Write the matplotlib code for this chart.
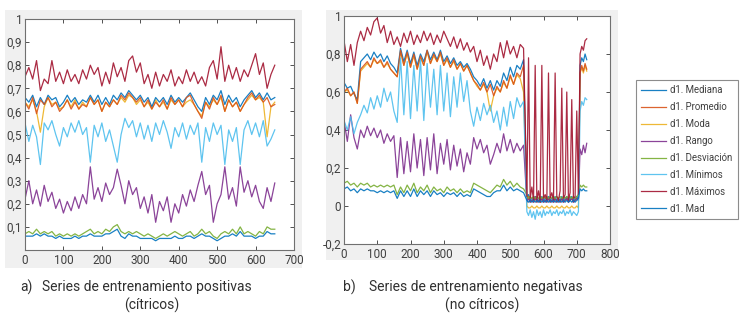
import numpy as np
import matplotlib
matplotlib.use("Agg")
import matplotlib.pyplot as plt
from matplotlib.patches import Rectangle
from matplotlib.ticker import FuncFormatter

plt.rcParams['font.family'] = ['Roboto', 'DejaVu Sans']

# ---------------- data: (a) positive training series, sampled every 10 ----------------
a_step = 10
a_maximos = [0.75, 0.79, 0.74, 0.82, 0.69, 0.74, 0.72, 0.82, 0.73, 0.77,
             0.72, 0.78, 0.73, 0.76, 0.72, 0.78, 0.74, 0.80, 0.76, 0.79,
             0.71, 0.77, 0.72, 0.81, 0.75, 0.79, 0.73, 0.82, 0.84, 0.77,
             0.81, 0.72, 0.76, 0.70, 0.77, 0.71, 0.76, 0.73, 0.78, 0.71,
             0.75, 0.72, 0.78, 0.73, 0.77, 0.72, 0.75, 0.71, 0.79, 0.82,
             0.74, 0.88, 0.73, 0.80, 0.74, 0.79, 0.73, 0.78, 0.75, 0.80,
             0.85, 0.76, 0.81, 0.70, 0.76, 0.80]
a_promedio = [0.64, 0.61, 0.66, 0.59, 0.65, 0.63, 0.66, 0.62, 0.64, 0.60,
              0.62, 0.65, 0.61, 0.64, 0.61, 0.63, 0.62, 0.66, 0.63, 0.65,
              0.60, 0.64, 0.62, 0.65, 0.63, 0.67, 0.65, 0.68, 0.66, 0.64,
              0.66, 0.62, 0.65, 0.61, 0.64, 0.62, 0.65, 0.61, 0.66, 0.63,
              0.65, 0.62, 0.66, 0.67, 0.63, 0.60, 0.57, 0.64, 0.61, 0.66,
              0.63, 0.67, 0.60, 0.65, 0.62, 0.64, 0.60, 0.63, 0.66, 0.68,
              0.65, 0.67, 0.64, 0.66, 0.62, 0.63]
a_mediana = [0.66, 0.64, 0.67, 0.62, 0.66, 0.63, 0.67, 0.65, 0.66, 0.62,
             0.64, 0.67, 0.64, 0.66, 0.63, 0.65, 0.64, 0.67, 0.64, 0.67,
             0.63, 0.66, 0.63, 0.67, 0.65, 0.68, 0.66, 0.69, 0.67, 0.65,
             0.67, 0.64, 0.66, 0.62, 0.66, 0.64, 0.66, 0.63, 0.67, 0.64,
             0.66, 0.64, 0.66, 0.68, 0.65, 0.62, 0.60, 0.66, 0.63, 0.67,
             0.65, 0.69, 0.63, 0.67, 0.64, 0.66, 0.62, 0.65, 0.67, 0.69,
             0.66, 0.68, 0.65, 0.68, 0.65, 0.66]
a_moda = [0.64, 0.62, 0.65, 0.60, 0.51, 0.62, 0.66, 0.63, 0.64, 0.61,
          0.62, 0.65, 0.62, 0.65, 0.61, 0.64, 0.62, 0.66, 0.63, 0.65,
          0.60, 0.64, 0.62, 0.65, 0.63, 0.66, 0.64, 0.67, 0.66, 0.63,
          0.65, 0.62, 0.64, 0.61, 0.65, 0.62, 0.64, 0.61, 0.65, 0.63,
          0.65, 0.62, 0.64, 0.65, 0.63, 0.60, 0.58, 0.64, 0.62, 0.65,
          0.63, 0.66, 0.60, 0.65, 0.62, 0.64, 0.60, 0.63, 0.65, 0.67,
          0.65, 0.66, 0.64, 0.49, 0.62, 0.64]
a_minimos = [0.55, 0.47, 0.54, 0.49, 0.37, 0.55, 0.52, 0.56, 0.50, 0.45,
             0.53, 0.49, 0.55, 0.51, 0.56, 0.50, 0.53, 0.38, 0.54, 0.49,
             0.55, 0.47, 0.52, 0.45, 0.38, 0.50, 0.57, 0.53, 0.56, 0.49,
             0.55, 0.48, 0.54, 0.47, 0.55, 0.50, 0.56, 0.51, 0.44, 0.53,
             0.49, 0.55, 0.48, 0.54, 0.50, 0.55, 0.38, 0.53, 0.47, 0.55,
             0.50, 0.54, 0.37, 0.52, 0.47, 0.53, 0.37, 0.52, 0.56, 0.50,
             0.55, 0.49, 0.56, 0.45, 0.48, 0.52]
a_rango = [0.22, 0.30, 0.20, 0.26, 0.19, 0.28, 0.21, 0.25, 0.18, 0.22,
           0.16, 0.21, 0.17, 0.23, 0.18, 0.24, 0.20, 0.36, 0.22, 0.27,
           0.21, 0.29, 0.24, 0.27, 0.35, 0.28, 0.20, 0.30, 0.24, 0.27,
           0.18, 0.23, 0.16, 0.24, 0.12, 0.21, 0.17, 0.23, 0.12, 0.20,
           0.16, 0.24, 0.19, 0.26, 0.21, 0.28, 0.34, 0.24, 0.28, 0.12,
           0.20, 0.24, 0.36, 0.22, 0.27, 0.19, 0.36, 0.25, 0.30, 0.23,
           0.28, 0.21, 0.18, 0.27, 0.21, 0.29]
a_desviacion = [0.07, 0.08, 0.07, 0.09, 0.07, 0.08, 0.07, 0.08, 0.06, 0.07,
                0.06, 0.07, 0.06, 0.07, 0.06, 0.07, 0.08, 0.09, 0.07, 0.08,
                0.07, 0.09, 0.08, 0.10, 0.11, 0.08, 0.07, 0.08, 0.07, 0.08,
                0.07, 0.06, 0.07, 0.06, 0.05, 0.06, 0.07, 0.06, 0.07, 0.08,
                0.07, 0.06, 0.07, 0.08, 0.06, 0.07, 0.09, 0.07, 0.08, 0.06,
                0.05, 0.07, 0.08, 0.07, 0.09, 0.07, 0.10, 0.07, 0.08, 0.07,
                0.06, 0.08, 0.07, 0.10, 0.09, 0.09]
a_mad = [0.06, 0.06, 0.06, 0.07, 0.06, 0.07, 0.06, 0.06, 0.05, 0.06,
         0.05, 0.05, 0.05, 0.06, 0.05, 0.06, 0.06, 0.07, 0.06, 0.06,
         0.06, 0.07, 0.07, 0.08, 0.09, 0.06, 0.05, 0.07, 0.06, 0.06,
         0.05, 0.05, 0.05, 0.05, 0.04, 0.05, 0.05, 0.05, 0.05, 0.06,
         0.05, 0.05, 0.06, 0.06, 0.05, 0.06, 0.07, 0.06, 0.06, 0.05,
         0.04, 0.05, 0.06, 0.06, 0.07, 0.06, 0.08, 0.06, 0.06, 0.06,
         0.05, 0.06, 0.06, 0.08, 0.07, 0.07]

# ---------------- data: (b) negative training series ----------------
# samples every 10 up to 540, then every 5 from 550 to 730
b_x = list(range(0, 550, 10)) + list(range(550, 735, 5))
b_maximos = [0.87, 0.76, 0.85, 0.74, 0.86, 0.92, 0.87, 0.94, 0.90, 0.97,
             0.99, 0.91, 0.95, 0.86, 0.92, 0.85, 0.89, 0.84, 0.91, 0.86,
             0.92, 0.85, 0.90, 0.86, 0.92, 0.87, 0.91, 0.85, 0.90, 0.86,
             0.92, 0.88, 0.84, 0.89, 0.83, 0.88, 0.82, 0.86, 0.81, 0.84,
             0.76, 0.82, 0.74, 0.79, 0.72, 0.80, 0.76, 0.86, 0.78, 0.87,
             0.80, 0.84, 0.78, 0.85, 0.83,
             0.05, 0.78, 0.04, 0.10, 0.03, 0.74, 0.03, 0.08, 0.02, 0.74,
             0.04, 0.06, 0.03, 0.70, 0.04, 0.07, 0.03, 0.70, 0.05, 0.03,
             0.08, 0.62, 0.04, 0.06, 0.60, 0.03, 0.07, 0.56, 0.04, 0.05,
             0.50, 0.06, 0.80, 0.84, 0.82, 0.87, 0.88]
b_promedio = [0.60, 0.62, 0.58, 0.60, 0.54, 0.72, 0.74, 0.76, 0.73, 0.78,
              0.75, 0.77, 0.73, 0.76, 0.72, 0.70, 0.68, 0.82, 0.74, 0.81,
              0.73, 0.80, 0.72, 0.79, 0.74, 0.82, 0.75, 0.80, 0.76, 0.81,
              0.74, 0.78, 0.73, 0.77, 0.72, 0.75, 0.71, 0.74, 0.70, 0.66,
              0.64, 0.61, 0.65, 0.60, 0.64, 0.58, 0.63, 0.60, 0.66, 0.62,
              0.69, 0.64, 0.70, 0.68, 0.74,
              0.03, 0.05, 0.02, 0.03, 0.02, 0.04, 0.02, 0.03, 0.02, 0.04,
              0.02, 0.03, 0.02, 0.04, 0.02, 0.03, 0.02, 0.04, 0.02, 0.03,
              0.02, 0.04, 0.02, 0.03, 0.04, 0.02, 0.03, 0.04, 0.02, 0.03,
              0.04, 0.03, 0.70, 0.74, 0.71, 0.75, 0.72]
b_mediana = [0.65, 0.62, 0.63, 0.59, 0.56, 0.76, 0.78, 0.80, 0.77, 0.81,
             0.78, 0.80, 0.76, 0.79, 0.75, 0.73, 0.70, 0.83, 0.76, 0.82,
             0.75, 0.81, 0.74, 0.80, 0.76, 0.82, 0.77, 0.81, 0.77, 0.82,
             0.76, 0.79, 0.75, 0.78, 0.74, 0.76, 0.73, 0.75, 0.72, 0.68,
             0.66, 0.63, 0.67, 0.62, 0.66, 0.61, 0.66, 0.63, 0.70, 0.66,
             0.73, 0.68, 0.74, 0.72, 0.77,
             0.04, 0.06, 0.03, 0.04, 0.03, 0.05, 0.03, 0.04, 0.03, 0.05,
             0.03, 0.04, 0.03, 0.05, 0.03, 0.04, 0.03, 0.05, 0.03, 0.04,
             0.03, 0.05, 0.03, 0.04, 0.05, 0.03, 0.04, 0.05, 0.03, 0.04,
             0.05, 0.04, 0.74, 0.78, 0.76, 0.80, 0.77]
b_moda = [0.60, 0.61, 0.58, 0.60, 0.54, 0.71, 0.73, 0.75, 0.73, 0.77,
          0.75, 0.76, 0.73, 0.75, 0.72, 0.70, 0.68, 0.81, 0.74, 0.80,
          0.73, 0.79, 0.72, 0.78, 0.74, 0.81, 0.75, 0.79, 0.76, 0.80,
          0.74, 0.77, 0.73, 0.76, 0.72, 0.75, 0.71, 0.74, 0.70, 0.66,
          0.63, 0.61, 0.64, 0.60, 0.50, 0.58, 0.62, 0.60, 0.65, 0.62,
          0.68, 0.64, 0.69, 0.67, 0.60,
          0.00, -0.01, -0.01, 0.00, -0.01, -0.01, 0.00, -0.01, -0.01, 0.00,
          -0.01, -0.01, 0.00, -0.01, -0.01, 0.00, -0.01, -0.01, 0.00, -0.01,
          -0.01, 0.00, -0.01, -0.01, 0.00, -0.01, -0.01, 0.00, -0.01, -0.01,
          0.00, -0.01, 0.70, 0.73, 0.70, 0.74, 0.71]
b_minimos = [0.45, 0.40, 0.47, 0.38, 0.44, 0.48, 0.53, 0.49, 0.57, 0.51,
             0.58, 0.52, 0.62, 0.55, 0.60, 0.50, 0.44, 0.78, 0.48, 0.76,
             0.46, 0.74, 0.50, 0.77, 0.45, 0.75, 0.52, 0.72, 0.48, 0.74,
             0.50, 0.70, 0.47, 0.68, 0.52, 0.70, 0.55, 0.66, 0.50, 0.42,
             0.52, 0.45, 0.54, 0.48, 0.53, 0.44, 0.50, 0.40, 0.52, 0.42,
             0.55, 0.46, 0.57, 0.52, 0.55,
             -0.03, -0.05, -0.02, -0.06, -0.03, -0.07, -0.02, -0.05, -0.03, -0.06,
             -0.02, -0.05, -0.03, -0.04, -0.02, -0.05, -0.03, -0.04, -0.02, -0.05,
             -0.03, -0.04, -0.02, -0.05, -0.03, -0.04, -0.02, -0.05, -0.03, -0.04,
             -0.05, -0.03, 0.50, 0.55, 0.53, 0.57, 0.56]
b_rango = [0.45, 0.34, 0.48, 0.36, 0.30, 0.40, 0.36, 0.42, 0.37, 0.41,
           0.36, 0.40, 0.33, 0.38, 0.34, 0.37, 0.15, 0.36, 0.17, 0.34,
           0.18, 0.38, 0.20, 0.35, 0.16, 0.36, 0.19, 0.38, 0.17, 0.33,
           0.22, 0.35, 0.19, 0.32, 0.21, 0.30, 0.18, 0.28, 0.22, 0.36,
           0.30, 0.35, 0.28, 0.32, 0.22, 0.27, 0.33, 0.28, 0.38, 0.29,
           0.35, 0.28, 0.33, 0.29, 0.32,
           0.02, 0.04, 0.02, 0.03, 0.02, 0.05, 0.02, 0.03, 0.02, 0.04,
           0.02, 0.03, 0.02, 0.04, 0.02, 0.03, 0.02, 0.04, 0.02, 0.03,
           0.02, 0.04, 0.02, 0.03, 0.04, 0.02, 0.03, 0.04, 0.02, 0.03,
           0.04, 0.03, 0.30, 0.27, 0.32, 0.28, 0.33]
b_desviacion = [0.12, 0.13, 0.11, 0.12, 0.10, 0.12, 0.11, 0.12, 0.10, 0.11,
                0.10, 0.11, 0.10, 0.11, 0.10, 0.11, 0.06, 0.10, 0.07, 0.11,
                0.08, 0.12, 0.07, 0.10, 0.08, 0.11, 0.07, 0.10, 0.08, 0.09,
                0.07, 0.10, 0.08, 0.09, 0.07, 0.09, 0.07, 0.08, 0.07, 0.12,
                0.11, 0.10, 0.09, 0.08, 0.07, 0.09, 0.11, 0.10, 0.14, 0.11,
                0.13, 0.10, 0.12, 0.10, 0.09,
                0.06, 0.04, 0.05, 0.04, 0.05, 0.04, 0.05, 0.04, 0.05, 0.04,
                0.05, 0.04, 0.05, 0.04, 0.05, 0.04, 0.05, 0.04, 0.05, 0.04,
                0.05, 0.04, 0.05, 0.04, 0.05, 0.04, 0.05, 0.04, 0.05, 0.04,
                0.05, 0.06, 0.11, 0.10, 0.11, 0.10, 0.10]
b_mad = [0.09, 0.10, 0.08, 0.09, 0.07, 0.09, 0.08, 0.09, 0.08, 0.08,
         0.07, 0.08, 0.07, 0.08, 0.07, 0.08, 0.04, 0.08, 0.05, 0.08,
         0.05, 0.09, 0.05, 0.08, 0.06, 0.08, 0.05, 0.08, 0.06, 0.07,
         0.05, 0.07, 0.06, 0.07, 0.05, 0.07, 0.05, 0.06, 0.05, 0.09,
         0.08, 0.07, 0.06, 0.05, 0.05, 0.07, 0.08, 0.08, 0.11, 0.08,
         0.10, 0.08, 0.09, 0.08, 0.07,
         0.03, 0.02, 0.03, 0.02, 0.03, 0.02, 0.03, 0.02, 0.03, 0.02,
         0.03, 0.02, 0.03, 0.02, 0.03, 0.02, 0.03, 0.02, 0.03, 0.02,
         0.03, 0.02, 0.03, 0.02, 0.03, 0.02, 0.03, 0.02, 0.03, 0.02,
         0.03, 0.04, 0.09, 0.08, 0.09, 0.08, 0.08]

labels = ["d1. Mediana", "d1. Promedio", "d1. Moda", "d1. Rango",
          "d1. Desviación", "d1. Mínimos", "d1. Máximos", "d1. Mad"]
colors = ["#0072BD", "#D95319", "#EDB120", "#7E2F8E",
          "#77AC30", "#4DBEEE", "#A2142F", "#0072BD"]

a_series = [a_mediana, a_promedio, a_moda, a_rango, a_desviacion, a_minimos, a_maximos, a_mad]
b_series = [b_mediana, b_promedio, b_moda, b_rango, b_desviacion, b_minimos, b_maximos, b_mad]
# drawing order (index into series) so that orange stays on top of yellow like the source
draw_order = [2, 0, 1, 3, 4, 5, 6, 7]

W, H = 744, 328
fig = plt.figure(figsize=(W / 100, H / 100), dpi=100)
fig.patch.set_facecolor("white")


def fx(px):
    return px / W


def fy(py):
    return 1 - py / H


# grey figure panels (behind the axes)
for (x0, y0, x1, y1) in [(5, 10, 302, 268), (326, 10, 618, 260)]:
    fig.patches.append(Rectangle((fx(x0), fy(y1)), fx(x1) - fx(x0), fy(y0) - fy(y1),
                                 transform=fig.transFigure, facecolor="#F0F0F0",
                                 edgecolor="none", zorder=-10))

ax1 = fig.add_axes([fx(25), fy(250), fx(294) - fx(25), fy(19) - fy(250)], zorder=2)
ax2 = fig.add_axes([fx(344), fy(244), fx(610) - fx(344), fy(16) - fy(244)], zorder=2)

comma = FuncFormatter(lambda v, p: ("%g" % round(v, 2)).replace(".", ","))

lines = []
for i in draw_order:
    ya = a_series[i]
    xa = np.arange(len(ya)) * a_step
    ax1.plot(xa, ya, color=colors[i], lw=0.9, alpha=0.9)
    ln, = ax2.plot(b_x[:len(b_series[i])], b_series[i], color=colors[i], lw=0.9,
                   alpha=0.9, label=labels[i])
    lines.append((i, ln))

ax1.set_xlim(0, 700)
ax1.set_ylim(0, 1)
ax1.set_xticks(range(0, 701, 100))
ax1.set_yticks([0.1, 0.2, 0.3, 0.4, 0.5, 0.6, 0.7, 0.8, 0.9, 1.0])

ax2.set_xlim(0, 800)
ax2.set_ylim(-0.2, 1)
ax2.set_xticks(range(0, 801, 100))
ax2.set_yticks([-0.2, 0, 0.2, 0.4, 0.6, 0.8, 1.0])

for ax in (ax1, ax2):
    ax.set_facecolor("white")
    ax.yaxis.set_major_formatter(comma)
    ax.tick_params(direction="in", length=3, width=0.7, top=True, right=True,
                   labelsize=8.5, colors="#505050", labelcolor="#404040")
    ax.tick_params(axis="x", pad=3)
    ax.tick_params(axis="y", pad=2)
    for s in ax.spines.values():
        s.set_color("#707070")
        s.set_linewidth(0.8)

# legend (ordered like the source)
handles = [ln for (i, ln) in sorted(lines, key=lambda t: t[0])]
leg = fig.legend(handles=handles, labels=labels, loc="upper left",
                 bbox_to_anchor=(fx(636), fy(80)), borderaxespad=0,
                 fontsize=6.9, frameon=True, fancybox=False, handlelength=2.6,
                 handletextpad=0.4, labelspacing=0.72, borderpad=0.55)
leg.get_frame().set_edgecolor("#707070")
leg.get_frame().set_linewidth(0.8)
for t in leg.get_texts():
    t.set_color("#404040")

# captions
cap_kw = dict(fontsize=10, color="#303030", va="center")
fig.text(fx(20), fy(287), "a)", ha="left", **cap_kw)
fig.text(fx(42), fy(287), "Series de entrenamiento positivas", ha="left", **cap_kw)
fig.text(fx(152), fy(305), "(cítricos)", ha="center", **cap_kw)
fig.text(fx(343), fy(287), "b)", ha="left", **cap_kw)
fig.text(fx(369), fy(287), "Series de entrenamiento negativas", ha="left", **cap_kw)
fig.text(fx(482), fy(305), "(no cítricos)", ha="center", **cap_kw)

fig.savefig("out.png", dpi=100, facecolor="white")
